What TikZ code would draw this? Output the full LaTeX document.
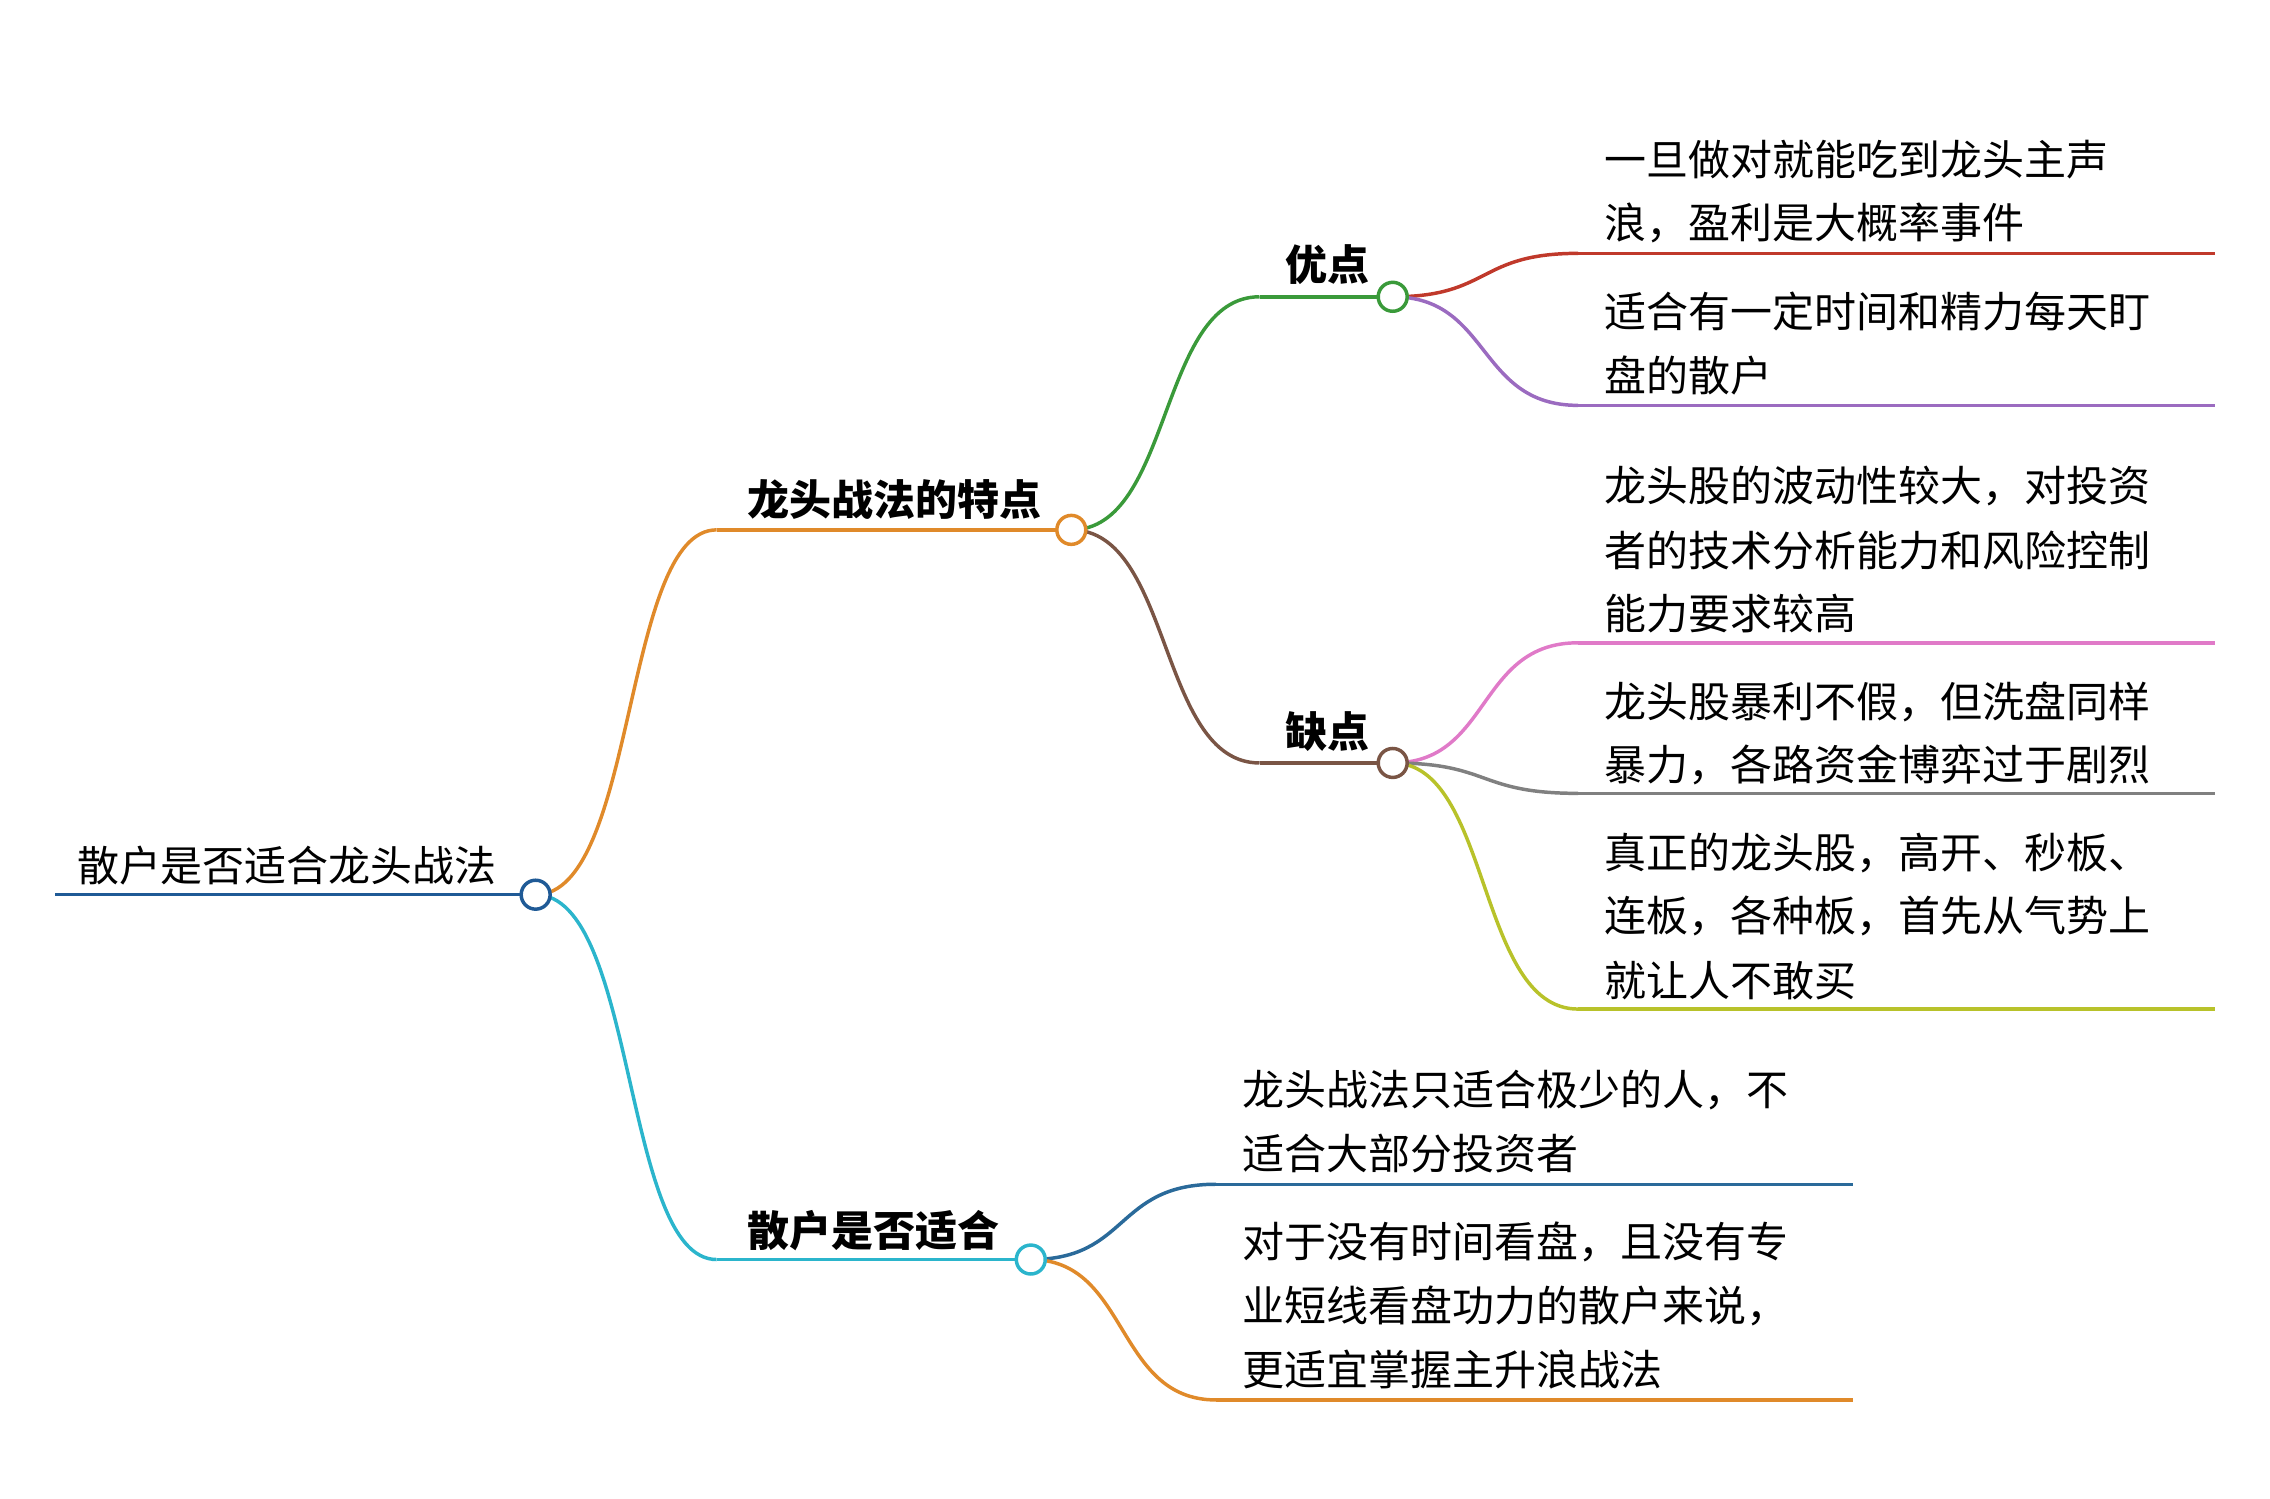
\documentclass[tikz,border=0pt]{standalone}
\usepackage{fontspec}
\setmainfont{Noto Sans CJK SC}
\newfontfamily\cjkb[BoldFont={Noto Sans CJK SC Bold}]{Noto Sans CJK SC}
\begin{document}
\begin{tikzpicture}[x=0.5pt,y=-0.5pt,line width=1.2pt,
  dot/.style={circle,draw,fill=white,inner sep=0pt,minimum size=10pt,line width=1.2pt},
  txt/.style={anchor=west,inner sep=0pt,font=\fontsize{14.5pt}{22pt}\selectfont},
  btxt/.style={anchor=west,inner sep=0pt,font=\fontsize{14.5pt}{22pt}\selectfont\bfseries},
  link/.style={line width=1.2pt}]
\definecolor{cRoot}{HTML}{1F5A96}\definecolor{cOr}{HTML}{E08A2A}\definecolor{cCy}{HTML}{2BB5CC}
\definecolor{cGr}{HTML}{3A9A3A}\definecolor{cBr}{HTML}{7A5545}\definecolor{cRd}{HTML}{C0392B}
\definecolor{cPu}{HTML}{9B6BC0}\definecolor{cPk}{HTML}{E07AC8}\definecolor{cGy}{HTML}{808080}
\definecolor{cOl}{HTML}{B8C22A}\definecolor{cBl}{HTML}{2A6A9A}
\useasboundingbox (0,0) rectangle (1568,1035);
% root
\coordinate (r0) at (38,618);
\node[txt] (rt) at (52,598) {散户是否适合龙头战法};
% branch lines
\coordinate (b1s) at (495,366); \coordinate (b2s) at (495,870);
\coordinate (p1s) at (870,205); \coordinate (p2s) at (870,527);
\draw[cRoot,link] (r0) -- (370,618);
\draw[cOr,link] (b1s) -- (740,366);
\draw[cCy,link] (b2s) -- (712,870);
\draw[cGr,link] (p1s) -- (962,205);
\draw[cBr,link] (p2s) -- (962,527);
\node[btxt] (t1) at (515,345) {龙头战法的特点};
\node[btxt] (t2) at (515,850) {散户是否适合};
\node[btxt] (t3) at (887,183) {优点};
\node[btxt] (t4) at (887,505) {缺点};
% leaf lines
\foreach \n/\y/\c in {l1/175/cRd,l2/280/cPu,l3/444/cPk,l4/548/cGy,l5/697/cOl}{
  \coordinate (\n) at (1090,\y); \draw[\c,link] (\n) -- (1530,\y);}
\foreach \n/\y/\c in {m1/818/cBl,m2/967/cOr}{
  \coordinate (\n) at (840,\y); \draw[\c,link] (\n) -- (1280,\y);}
% curves
\draw[cOr,link] (370,618) .. controls (440,618) and (430,366) .. (b1s);
\draw[cCy,link] (370,618) .. controls (440,618) and (430,870) .. (b2s);
\draw[cGr,link] (740,366) .. controls (810,366) and (800,205) .. (p1s);
\draw[cBr,link] (740,366) .. controls (810,366) and (800,527) .. (p2s);
\draw[cRd,link] (962,205) .. controls (1030,205) and (1020,175) .. (l1);
\draw[cPu,link] (962,205) .. controls (1030,205) and (1020,280) .. (l2);
\draw[cPk,link] (962,527) .. controls (1030,527) and (1020,444) .. (l3);
\draw[cGy,link] (962,527) .. controls (1030,527) and (1020,548) .. (l4);
\draw[cOl,link] (962,527) .. controls (1030,527) and (1020,697) .. (l5);
\draw[cBl,link] (712,870) .. controls (780,870) and (770,818) .. (m1);
\draw[cOr,link] (712,870) .. controls (780,870) and (770,967) .. (m2);
% dots
\node[dot,draw=cRoot] (d0) at (370,618) {};
\node[dot,draw=cOr] (d1) at (740,366) {};
\node[dot,draw=cCy] (d2) at (712,870) {};
\node[dot,draw=cGr] (d3) at (962,205) {};
\node[dot,draw=cBr] (d4) at (962,527) {};
% leaf texts
\node[txt] (x1) at (1107,110) {一旦做对就能吃到龙头主声};
\node[txt] (x1b) at (1107,154) {浪，盈利是大概率事件};
\node[txt] (x2) at (1107,215) {适合有一定时间和精力每天盯};
\node[txt] (x2b) at (1107,259) {盘的散户};
\node[txt] (x3) at (1107,336) {龙头股的波动性较大，对投资};
\node[txt] (x3b) at (1107,380) {者的技术分析能力和风险控制};
\node[txt] (x3c) at (1107,424) {能力要求较高};
\node[txt] (x4) at (1107,485) {龙头股暴利不假，但洗盘同样};
\node[txt] (x4b) at (1107,528) {暴力，各路资金博弈过于剧烈};
\node[txt] (x5) at (1107,589) {真正的龙头股，高开、秒板、};
\node[txt] (x5b) at (1107,633) {连板，各种板，首先从气势上};
\node[txt] (x5c) at (1107,677) {就让人不敢买};
\node[txt] (y1) at (857,753) {龙头战法只适合极少的人，不};
\node[txt] (y1b) at (857,797) {适合大部分投资者};
\node[txt] (y2) at (857,858) {对于没有时间看盘，且没有专};
\node[txt] (y2b) at (857,902) {业短线看盘功力的散户来说，};
\node[txt] (y2c) at (857,946) {更适宜掌握主升浪战法};
\end{tikzpicture}
\end{document}
